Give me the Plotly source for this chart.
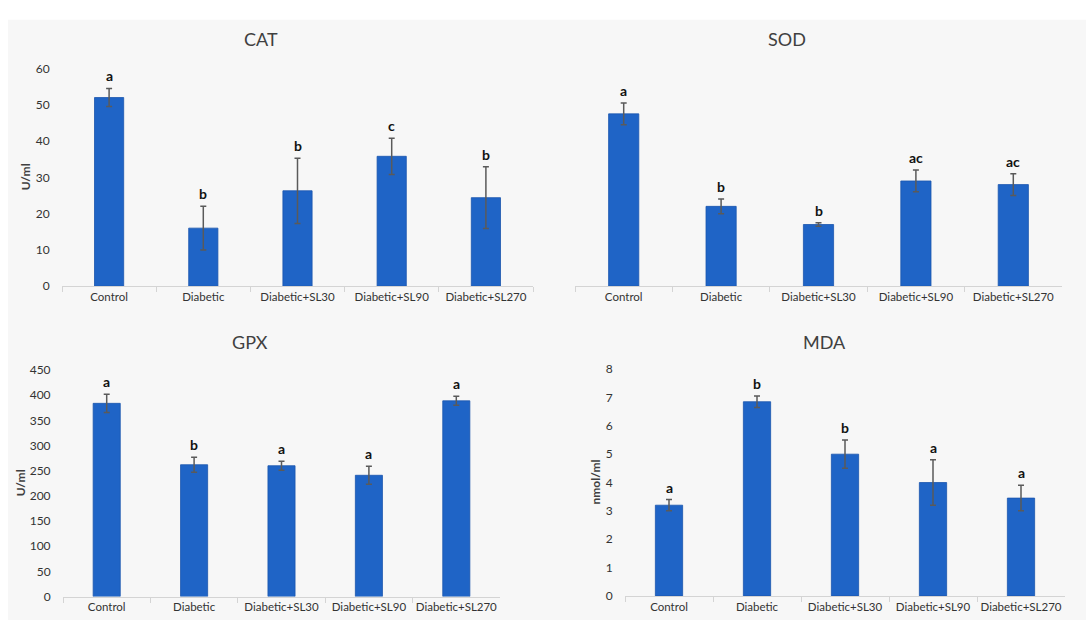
import plotly.graph_objects as go

W, H = 1086, 627

groups = ["Control", "Diabetic", "Diabetic+SL30", "Diabetic+SL90", "Diabetic+SL270"]

cat_vals = [52, 16, 26.3, 35.8, 24.4]
cat_err = [2.5, 6, 9, 5, 8.5]
cat_letters = ["a", "b", "b", "c", "b"]

sod_vals = [47.5, 22, 17, 29, 28]
sod_err = [3, 2, 0.5, 3, 3]
sod_letters = ["a", "b", "b", "ac", "ac"]

gpx_vals = [384, 262, 260, 241, 389]
gpx_err = [18, 15, 9, 18, 9]
gpx_letters = ["a", "b", "a", "a", "a"]

mda_vals = [3.2, 6.85, 5.0, 4.0, 3.45]
mda_err = [0.2, 0.2, 0.5, 0.8, 0.45]
mda_letters = ["a", "b", "b", "a", "a"]

titles = ["CAT", "SOD", "GPX", "MDA"]
ytitles = ["U/ml", None, "U/ml", "nmol/ml"]

BAR = "#1f64c6"
FONT = "Lato"
TXT = "#404040"
TICK = "#333333"

panels = [
    # (vals, err, letters, x0px, x1px, y0px(bottom), y1px(top), range, dtick, show ytick, title x px, title y px, ytitle x px)
    (cat_vals, cat_err, cat_letters, 62, 533, 285, 62, [0, 60], 10, True, 261, 32, 25),
    (sod_vals, sod_err, sod_letters, 575, 1062, 285, 62, [0, 60], 10, False, 787, 32, None),
    (gpx_vals, gpx_err, gpx_letters, 63, 500, 603, 371, [0, 450], 50, True, 250, 342, 20),
    (mda_vals, mda_err, mda_letters, 625, 1065, 602.3, 370, [0, 8], 1, True, 824, 342, 596),
]

fig = go.Figure()
annotations = []
for i, (vals, err, letters, x0, x1, yb, yt, rng, dt, showy, tx, ty, ytx) in enumerate(panels, start=1):
    xa = "x" if i == 1 else f"x{i}"
    ya = "y" if i == 1 else f"y{i}"
    fig.add_trace(go.Bar(
        x=groups, y=vals, xaxis=xa, yaxis=ya,
        marker=dict(color=BAR, line=dict(color="#1a56ad", width=0.8)),
        error_y=dict(type="data", array=err, visible=True, color="#5a5a5a",
                     thickness=1.5, width=3),
        showlegend=False,
    ))
    xkey = "xaxis" if i == 1 else f"xaxis{i}"
    ykey = "yaxis" if i == 1 else f"yaxis{i}"
    fig.update_layout(**{
        xkey: dict(domain=[x0 / W, x1 / W], anchor=ya, type="category",
                   showline=True, linecolor="#d4d4d4", linewidth=1,
                   ticks="outside", tickson="boundaries", ticklen=5, tickcolor="#d4d4d4",
                   tickfont=dict(family=FONT, size=11.5, color=TICK),
                   showgrid=False, zeroline=False, fixedrange=True),
        ykey: dict(domain=[1 - yb / H, 1 - yt / H], anchor=xa, range=rng, dtick=dt,
                   showgrid=False, zeroline=False, showline=False,
                   showticklabels=showy, ticks="outside", ticklen=9,
                   tickcolor="rgba(0,0,0,0)",
                   tickfont=dict(family=FONT, size=12, color=TICK)),
    })
    for g, v, e, l in zip(groups, vals, err, letters):
        annotations.append(dict(x=g, y=v + e, xref=xa, yref=ya, text=f"<b>{l}</b>",
                                showarrow=False, xanchor="center", yanchor="bottom", yshift=2,
                                font=dict(family=FONT, size=14, color="#111111")))
    annotations.append(dict(x=tx / W, y=1 - ty / H, xref="paper", yref="paper",
                            xanchor="center", yanchor="middle",
                            text=titles[i - 1], showarrow=False,
                            font=dict(family=FONT, size=18, color=TXT)))
    if ytitles[i - 1]:
        annotations.append(dict(x=ytx / W, y=1 - ((yb + yt) / 2) / H,
                                xref="paper", yref="paper", text=f"<b>{ytitles[i-1]}</b>",
                                xanchor="center", yanchor="middle",
                                textangle=-90, showarrow=False,
                                font=dict(family=FONT, size=12, color=TXT)))

fig.update_layout(
    autosize=True,
    margin=dict(l=0, r=0, t=0, b=0),
    paper_bgcolor="white", plot_bgcolor="rgba(0,0,0,0)",
    bargap=0.69,
    annotations=annotations,
    shapes=[dict(type="rect", xref="paper", yref="paper", x0=8 / W, x1=1,
                 y0=0, y1=1 - 12 / H, fillcolor="#f7f7f7", line=dict(width=0),
                 layer="below")],
)

fig.write_html("out.html",
               config={"displayModeBar": False, "responsive": True},
               default_width="100vw", default_height="100vh",
               post_script="document.body.style.margin='0';document.body.style.overflow='hidden';")
